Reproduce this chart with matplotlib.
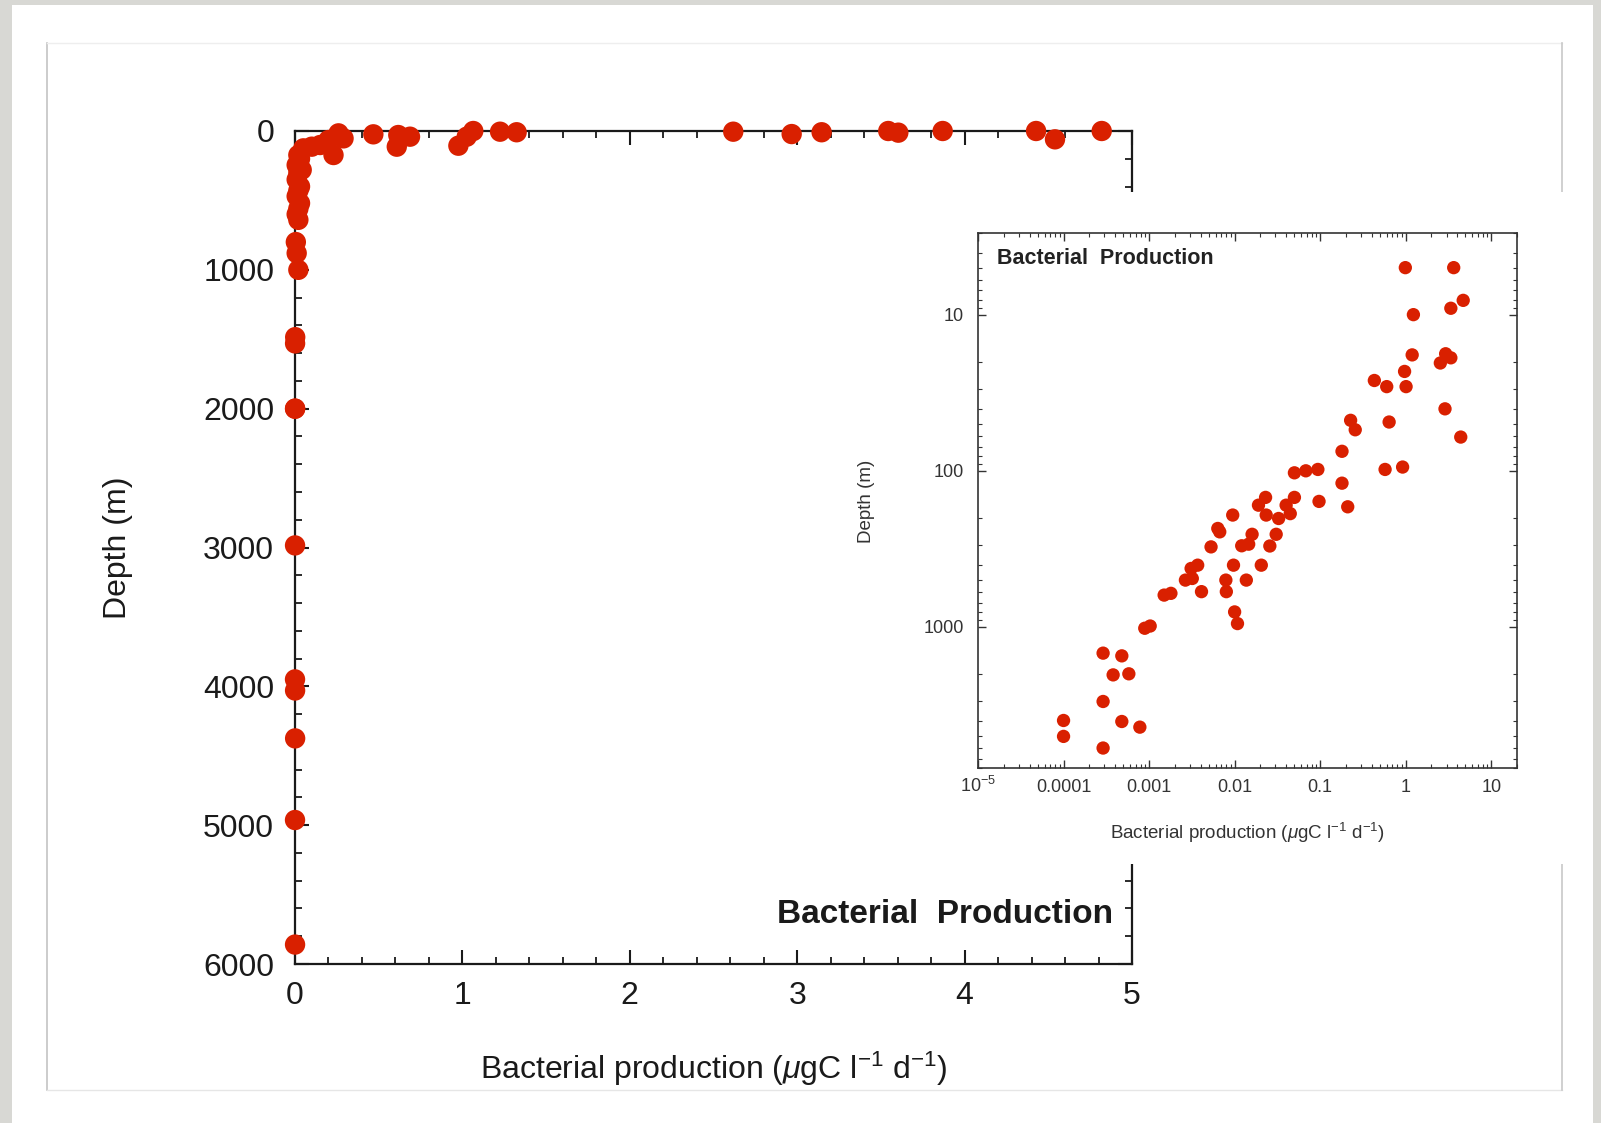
import matplotlib
matplotlib.use("Agg")
import matplotlib.pyplot as plt
from matplotlib.patches import Rectangle
from matplotlib.lines import Line2D
from matplotlib.ticker import MultipleLocator, LogLocator, NullFormatter

plt.rcParams['font.family'] = ['Liberation Sans', 'DejaVu Sans']
plt.rcParams['mathtext.fontset'] = 'custom'
plt.rcParams['mathtext.rm'] = 'Liberation Sans'
plt.rcParams['mathtext.it'] = 'Liberation Sans:italic'
plt.rcParams['mathtext.bf'] = 'Liberation Sans:bold'

# ---------------- data: main (linear) panel ----------------
bp_main = [0.468, 0.617, 0.608, 0.687, 0.976, 1.026, 1.065, 1.225, 1.324,
           2.618, 2.967, 3.146, 3.544, 3.604, 3.869, 4.427, 4.540, 4.819,
           0.26, 0.29, 0.20, 0.15, 0.10, 0.05, 0.23, 0.02, 0.01, 0.03, 0.02,
           0.04, 0.01, 0.03, 0.02, 0.01, 0.03, 0.02, 0.01, 0.02, 0.005, 0.01,
           0.02, 0.0012, 0.0005, 0.0004, 0.0006, 0.0003, 0.0001, 0.0005,
           0.0008, 0.0001, 0.0003]
depth_main = [24, 29, 113, 41, 106, 41, 0, 5, 9,
              5, 22, 9, 0, 12, 0, 0, 60, 0,
              17, 53, 65, 101, 113, 125, 173, 173, 245, 200, 300,
              280, 350, 400, 430, 470, 520, 560, 600, 640, 800, 880,
              1000, 1485, 1530, 2000, 2000, 2985, 3950, 4030,
              4375, 4963, 5860]

# ---------------- data: inset (log-log) panel ----------------
bp_log = [0.99, 3.64, 4.7, 3.37, 1.23, 1.19, 2.93, 3.37, 2.54, 0.97,
          0.43, 0.60, 1.01, 2.88, 0.64, 0.227, 0.257, 4.4, 0.18, 0.574,
          0.92, 0.05, 0.068, 0.094, 0.18, 0.097, 0.21, 0.023, 0.019, 0.05,
          0.04, 0.0095, 0.0234, 0.0327, 0.0447, 0.00636, 0.0067, 0.016, 0.0306,
          0.0053, 0.0121, 0.0146, 0.0258, 0.0037, 0.0031, 0.0097, 0.0205,
          0.00266, 0.0032, 0.0079, 0.0137, 0.0041, 0.0015, 0.0018, 0.008,
          0.01, 0.0108, 0.00089, 0.00103, 0.00029, 0.00048, 0.00038, 0.00058,
          0.00029, 0.0001, 0.0001, 0.00048, 0.00078, 0.00029]
depth_log = [5.0, 5.0, 8.1, 9.1, 10.0, 18.1, 17.8, 18.9, 20.4, 23.1,
             26.4, 28.9, 28.9, 40.1, 48.7, 47.5, 54.6, 60.8, 75, 98,
             94.6, 103, 100, 98, 120, 157, 170, 148, 166, 148,
             166, 192, 192, 202, 188, 234, 246, 255, 255,
             307, 302, 295, 303, 402, 422, 402, 402,
             501, 489, 501, 501, 594, 625, 609, 594,
             801, 951, 1019, 986, 1471, 1531, 2027, 1995,
             3000, 3970, 5020, 4030, 4380, 5960]

main_xticks = [0, 1, 2, 3, 4, 5]
main_yticks = [0, 1000, 2000, 3000, 4000, 5000, 6000]
inset_xticks = [1e-5, 1e-4, 1e-3, 1e-2, 1e-1, 1, 10]
inset_xticklabels = [r'$10^{-5}$', '0.0001', '0.001', '0.01', '0.1', '1', '10']
inset_yticks = [10, 100, 1000]
inset_yticklabels = ['10', '100', '1000']

RED = '#d92000'
TXT = '#1a1a1a'

W, H = 1601, 1123
fig = plt.figure(figsize=(W / 100, H / 100), dpi=100)
fig.patch.set_facecolor('white')


def fx(px):
    return px / W


def fy(py):
    return 1 - py / H


# textured border strips (plain grey)
for (x0, y0, x1, y1) in [(0, 0, 12, H), (0, 0, W, 5), (1593, 0, W, H)]:
    fig.add_artist(Rectangle((fx(x0), fy(y1)), fx(x1) - fx(x0), fy(y0) - fy(y1),
                             transform=fig.transFigure, facecolor='#d8d8d4',
                             edgecolor='none', zorder=0.2))

# inner panel border
fig.add_artist(Line2D([fx(47), fx(47)], [fy(43), fy(1090)], transform=fig.transFigure,
                      color='#c4c4c4', lw=1.2, zorder=0.5))
fig.add_artist(Line2D([fx(47), fx(1562)], [fy(43), fy(43)], transform=fig.transFigure,
                      color='#eeeeee', lw=1.0, zorder=0.5))
fig.add_artist(Line2D([fx(47), fx(1562)], [fy(1090), fy(1090)], transform=fig.transFigure,
                      color='#e6e6e6', lw=1.0, zorder=0.5))
fig.add_artist(Line2D([fx(1562), fx(1562)], [fy(43), fy(1090)], transform=fig.transFigure,
                      color='#c8c8c8', lw=1.2, zorder=0.5))

# ---------------- main axes ----------------
ax = fig.add_axes([fx(295), fy(964), fx(1132) - fx(295), fy(131) - fy(964)])
ax.set_facecolor('none')
ax.scatter(bp_main, depth_main, s=215, color=RED, edgecolors='none',
           clip_on=False, zorder=3)
ax.set_xlim(0, 5)
ax.set_ylim(6000, 0)
ax.set_xticks(main_xticks)
ax.set_xticklabels([str(v) for v in main_xticks])
ax.set_yticks(main_yticks)
ax.set_yticklabels([str(v) for v in main_yticks])
ax.xaxis.set_minor_locator(MultipleLocator(0.2))
ax.yaxis.set_minor_locator(MultipleLocator(200))
for sp in ax.spines.values():
    sp.set_linewidth(1.6)
    sp.set_color(TXT)
ax.tick_params(which='both', direction='in', top=True, right=True, colors=TXT)
ax.tick_params(which='major', length=10, width=1.5, labelsize=23)
ax.tick_params(which='minor', length=5, width=1.3)
ax.tick_params(axis='y', which='major', pad=15)
ax.tick_params(axis='x', which='major', pad=12)
ax.set_xlabel(r'Bacterial production ($\mu$gC l$^{-1}$ d$^{-1}$)', fontsize=23, color=TXT)
ax.xaxis.set_label_coords(0.5, -0.103)
ax.set_ylabel('Depth (m)', fontsize=23, color=TXT)
ax.yaxis.set_label_coords(-0.194, 0.5)
ax.text(0.977, 0.060, 'Bacterial  Production', transform=ax.transAxes,
        ha='right', va='center', fontsize=24, fontweight='bold', color=TXT)

# white box behind inset
fig.add_artist(Rectangle((fx(850), fy(864)), fx(1585) - fx(850), fy(192) - fy(864),
                         transform=fig.transFigure, facecolor='white',
                         edgecolor='none', zorder=1))

# ---------------- inset axes ----------------
ax2 = fig.add_axes([fx(978), fy(768), fx(1517) - fx(978), fy(233) - fy(768)], zorder=2)
ax2.set_facecolor('white')
ax2.scatter(bp_log, depth_log, s=92, color=RED, edgecolors='none', zorder=3)
ax2.set_xscale('log')
ax2.set_yscale('log')
ax2.set_xlim(1e-5, 20)
ax2.set_ylim(8000, 3)
ax2.set_xticks(inset_xticks)
ax2.set_xticklabels(inset_xticklabels)
ax2.set_yticks(inset_yticks)
ax2.set_yticklabels(inset_yticklabels)
ax2.xaxis.set_minor_locator(LogLocator(base=10, subs=range(2, 10), numticks=20))
ax2.yaxis.set_minor_locator(LogLocator(base=10, subs=range(2, 10), numticks=20))
ax2.xaxis.set_minor_formatter(NullFormatter())
ax2.yaxis.set_minor_formatter(NullFormatter())
for sp in ax2.spines.values():
    sp.set_linewidth(1.2)
    sp.set_color('#333333')
ax2.tick_params(which='both', direction='in', top=True, right=True, colors='#333333')
ax2.tick_params(which='major', length=6, width=1.0, labelsize=13)
ax2.tick_params(which='minor', length=3, width=0.8)
ax2.tick_params(axis='y', which='major', pad=10)
ax2.tick_params(axis='x', which='major', pad=17)
for lbl in ax2.get_xticklabels():
    lbl.set_verticalalignment('baseline')
ax2.set_xlabel(r'Bacterial production ($\mu$gC l$^{-1}$ d$^{-1}$)', fontsize=13.5, color='#333333')
ax2.xaxis.set_label_coords(0.5, -0.099)
ax2.set_ylabel('Depth (m)', fontsize=13.5, color='#333333')
ax2.yaxis.set_label_coords(-0.191, 0.4985)
ax2.text(0.036, 0.953, 'Bacterial  Production', transform=ax2.transAxes,
         ha='left', va='center', fontsize=15.5, fontweight='bold', color='#222222')

fig.savefig('out.png', dpi=100, facecolor='white')
